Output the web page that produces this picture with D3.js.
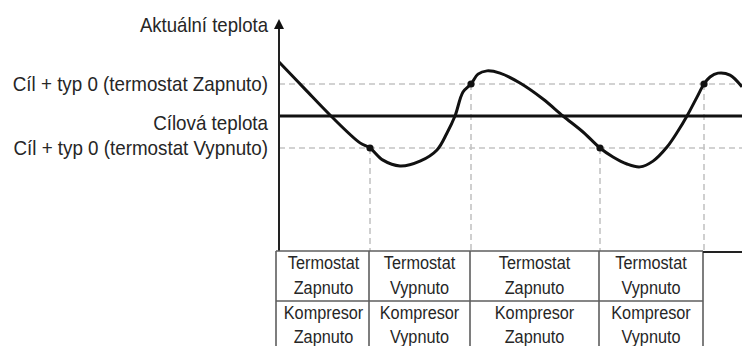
<!DOCTYPE html>
<html>
<head>
<meta charset="utf-8">
<script src="https://cdn.jsdelivr.net/npm/d3@7"></script>
<style>
  html, body { margin: 0; padding: 0; background: #fff; }
  svg { display: block; }
  text { font-family: "Liberation Sans", Arial, sans-serif; fill: #262626; }
</style>
</head>
<body>
<svg id="chart" width="742" height="346"></svg>
<script>
// Time (minutes) and temperature offset from the target (0 = target)
const curveTime = [0, 2.6, 5.2, 8.1, 9.1, 10.4, 12.1, 14.1, 15.8, 16.8, 17.6, 18.4, 19.2, 19.9, 20.8, 22.1, 24.1, 26.4, 28.4, 30.4, 32.1, 33.4, 34.8, 36.1, 37.4, 38.8, 39.9, 40.8, 41.8, 42.5, 43.1, 43.9, 45.1, 46.3];
const curveTemp = [1.69, 0.84, 0.0, -0.84, -1.0, -1.38, -1.56, -1.41, -1.06, -0.53, 0.0, 0.75, 1.0, 1.31, 1.41, 1.34, 1.03, 0.53, 0.0, -0.5, -1.0, -1.28, -1.5, -1.59, -1.41, -0.97, -0.47, 0.0, 0.59, 1.0, 1.22, 1.34, 1.28, 0.91];

// Thermostat switching instants and the level reached at each one
const switchTime = [9.1, 19.2, 32.1, 42.5];
const switchTemp = [-1, 1, -1, 1];

// Reference levels
const levelOn = 1;      // Cíl + typ 0 (termostat Zapnuto)
const levelTarget = 0;  // Cílová teplota
const levelOff = -1;    // Cíl + typ 0 (termostat Vypnuto)

const levelLabels = [
  { value: levelOn, text: "Cíl + typ 0 (termostat Zapnuto)", dy: 7 },
  { value: levelTarget, text: "Cílová teplota", dy: 14 },
  { value: levelOff, text: "Cíl + typ 0 (termostat Vypnuto)", dy: 7 }
];
const axisTitle = "Aktuální teplota";

// Table: phase boundaries and cell texts
const phaseStart = [0, 9.1, 19.2, 32.1];
const phaseEnd = [9.1, 19.2, 32.1, 42.5];
const thermostatRow = [["Termostat", "Zapnuto"], ["Termostat", "Vypnuto"], ["Termostat", "Zapnuto"], ["Termostat", "Vypnuto"]];
const compressorRow = [["Kompresor", "Zapnuto"], ["Kompresor", "Vypnuto"], ["Kompresor", "Zapnuto"], ["Kompresor", "Vypnuto"]];

const svg = d3.select("#chart");
const W = 742;
const axisX = 279, axisTop = 19, plotBottom = 251;

const x = d3.scaleLinear().domain([0, 46.3]).range([axisX, W]);
const y = d3.scaleLinear().domain([-1, 1]).range([148, 84]);

// Narrow-looking text: regular face squeezed horizontally
function label(parent, px, py, s, size, sx, anchor) {
  return parent.append("text")
    .attr("transform", `translate(${px},${py}) scale(${sx},1)`)
    .attr("text-anchor", anchor)
    .attr("font-size", size)
    .text(s);
}

// Dashed threshold levels
svg.selectAll("line.level")
  .data([levelOn, levelOff])
  .join("line")
  .attr("x1", axisX).attr("x2", W)
  .attr("y1", d => y(d)).attr("y2", d => y(d))
  .attr("stroke", "#c4c4c4").attr("stroke-width", 1.6)
  .attr("stroke-dasharray", "6,4");

// Dashed drop lines from each switching point down to the table
svg.selectAll("line.drop")
  .data(switchTime.map((t, i) => ({ t, v: switchTemp[i] })))
  .join("line")
  .attr("x1", d => x(d.t)).attr("x2", d => x(d.t))
  .attr("y1", d => y(d.v)).attr("y2", plotBottom)
  .attr("stroke", "#c4c4c4").attr("stroke-width", 1.6)
  .attr("stroke-dasharray", "6,4");

// Target temperature line
svg.append("line")
  .attr("x1", axisX).attr("x2", W)
  .attr("y1", y(levelTarget)).attr("y2", y(levelTarget))
  .attr("stroke", "#111").attr("stroke-width", 3);

// Temperature curve
const pts = curveTime.map((t, i) => [t, curveTemp[i]]);
svg.append("path")
  .datum(pts)
  .attr("d", d3.line().x(d => x(d[0])).y(d => y(d[1])).curve(d3.curveCatmullRom.alpha(0.5)))
  .attr("fill", "none").attr("stroke", "#111").attr("stroke-width", 3)
  .attr("stroke-linejoin", "round");

// Switching points
svg.selectAll("circle.sw")
  .data(switchTime.map((t, i) => ({ t, v: switchTemp[i] })))
  .join("circle")
  .attr("cx", d => x(d.t)).attr("cy", d => y(d.v)).attr("r", 3.6)
  .attr("fill", "#111");

// Vertical axis with arrow
svg.append("line")
  .attr("x1", axisX).attr("x2", axisX)
  .attr("y1", axisTop + 6).attr("y2", plotBottom)
  .attr("stroke", "#222").attr("stroke-width", 2);
svg.append("path")
  .attr("d", `M${axisX},${axisTop} L${axisX - 5},${axisTop + 10} L${axisX + 5},${axisTop + 10} Z`)
  .attr("fill", "#111");

label(svg, 268, 32, axisTitle, 20, 0.93, "end");

// Level labels
levelLabels.forEach(d => label(svg, 268, y(d.value) + d.dy, d.text, 20, 0.94, "end"));

// Table below the plot
const tblLeft = axisX - 3, rowH = 50, tblTop = plotBottom;
const tableColor = "#5e5e5e";
const tbl = svg.append("g");
const tblRight = x(phaseEnd[phaseEnd.length - 1]) - 1;

[tblTop, tblTop + rowH].forEach(ty => {
  tbl.append("line")
    .attr("x1", tblLeft).attr("x2", tblRight)
    .attr("y1", ty).attr("y2", ty)
    .attr("stroke", tableColor).attr("stroke-width", 1.6);
});

// Column borders
const borders = [tblLeft].concat(phaseEnd.map(t => x(t) - 1));
tbl.selectAll("line.col")
  .data(borders)
  .join("line")
  .attr("x1", d => d).attr("x2", d => d)
  .attr("y1", tblTop).attr("y2", 346)
  .attr("stroke", tableColor).attr("stroke-width", 1.6);

// Time axis continuing past the table
svg.append("line")
  .attr("x1", tblRight).attr("x2", W)
  .attr("y1", tblTop + 1).attr("y2", tblTop + 1)
  .attr("stroke", "#222").attr("stroke-width", 2);

function cellText(rows, rowIndex) {
  rows.forEach((lines, i) => {
    const cx = (x(phaseStart[i]) + x(phaseEnd[i])) / 2 - 1;
    lines.forEach((s, j) => {
      label(tbl, cx, tblTop + rowIndex * rowH + 18 + j * 25 - (rowIndex === 1 && j === 1 ? 1 : 0), s, 18.5, 0.88, "middle");
    });
  });
}
cellText(thermostatRow, 0);
cellText(compressorRow, 1);
</script>
</body>
</html>
